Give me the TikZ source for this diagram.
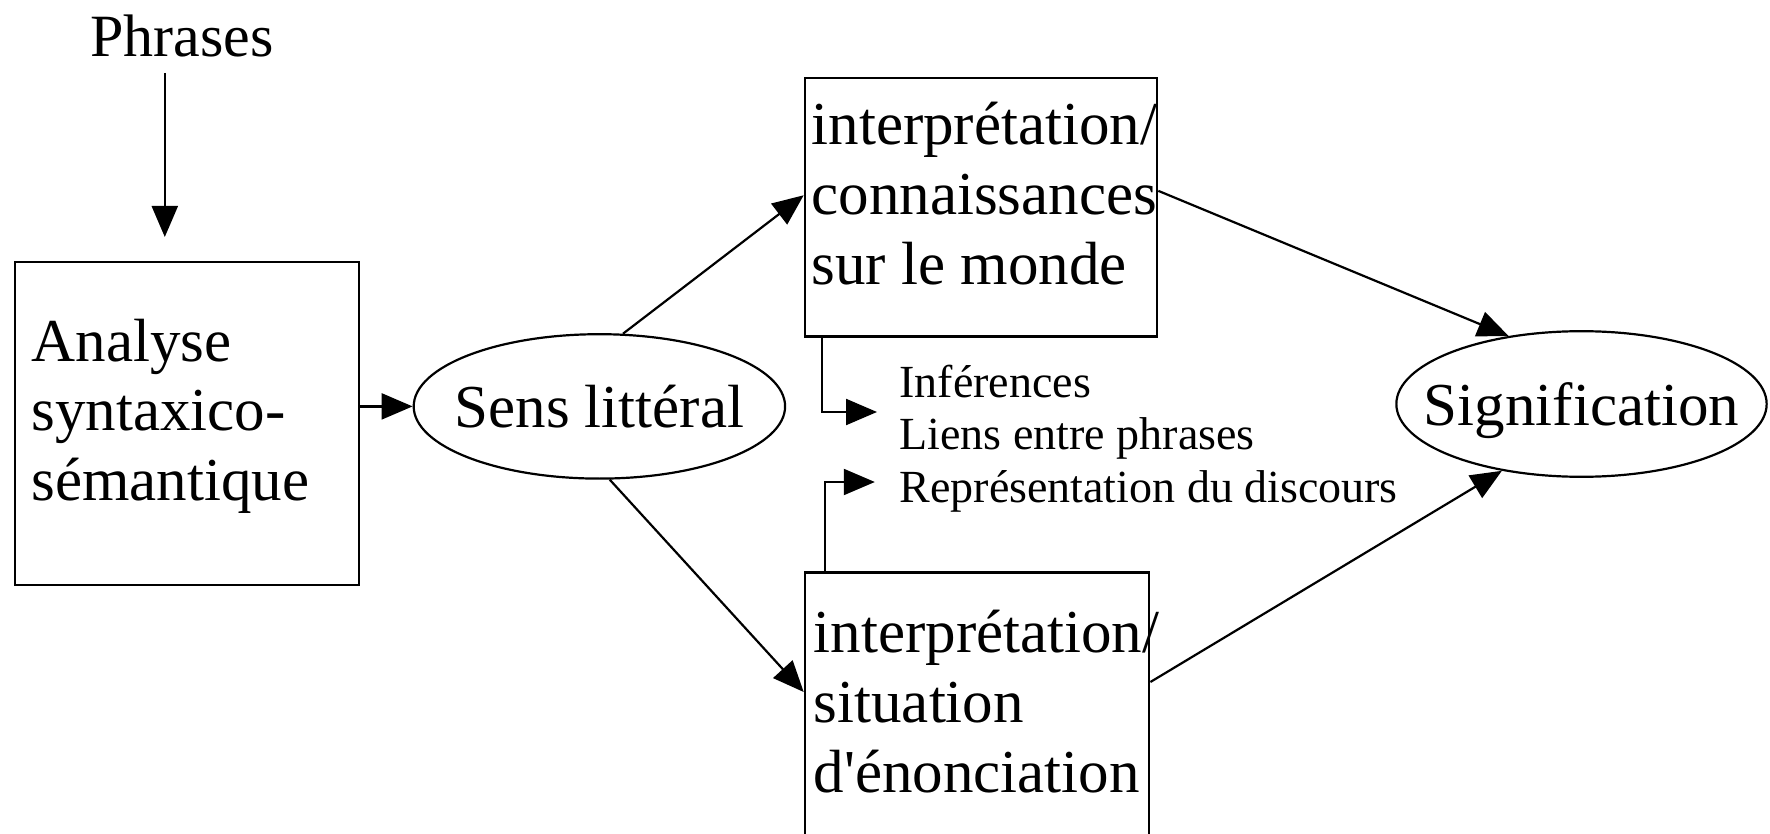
\documentclass[tikz,border=0pt]{standalone}
\usepackage{fontspec}
\setmainfont{Liberation Serif}
\usetikzlibrary{arrows.meta,shapes.geometric,calc}
\begin{document}
\begin{tikzpicture}[x=1pt,y=-1pt, line width=2.2pt,
  tip/.style={-{Triangle[length=31pt,width=26pt]}},
  boxnode/.style={draw, rectangle, inner sep=0pt, anchor=north west, line width=2.4pt},
  oval/.style={draw, ellipse, inner sep=0pt, font=\fontsize{61}{70}\selectfont, text height=42pt, text depth=0pt},
  bigtext/.style={inner sep=0pt, anchor=base west, font=\fontsize{61}{70}\selectfont},
  smalltext/.style={inner sep=0pt, anchor=base west, font=\fontsize{46}{52.5}\selectfont}]
\useasboundingbox (0,0) rectangle (1770,834);
\clip (0,0) rectangle (1770,834);

% boxes
\node[boxnode, minimum width=344.3pt, minimum height=322.8pt] (box1) at (13.5,260.8) {};
\node[boxnode, minimum width=352.2pt, minimum height=258.5pt] (box2) at (803.7,76.8) {};
\node[boxnode, minimum width=344.3pt, minimum height=400pt] (box3) at (803.7,571.2) {};

% box texts
\node[bigtext] (t1) at (30.5,361) {\vtop{\hbox{Analyse}\hbox{syntaxico-}\hbox{sémantique}}};
\node[bigtext] (t2) at (810.5,144.5) {\vtop{\hbox{interprétation/}\hbox{connaissances}\hbox{sur le monde}}};
\node[bigtext] (t3) at (812.7,652) {\vtop{\hbox{interprétation/}\hbox{situation}\hbox{d\textquotesingle énonciation}}};

% ellipses
\node[oval, minimum width=371.4pt, minimum height=144.4pt] (sens) at (599.4,406.4) {\makebox[0pt]{Sens littéral}};
\node[oval, minimum width=370.3pt, minimum height=145.6pt] (sig) at (1581.5,404) {\makebox[0pt]{Signification}};

% top text
\node[font=\fontsize{60}{70}\selectfont, anchor=base, inner sep=0pt] (phr) at (181.7,56.4) {Phrases};
\coordinate (phrEnd) at (164.8,237);
\draw[tip] ($(phr.base -| phrEnd)+(0,16.6)$) -- (phrEnd);

% small text
\node[smalltext] (inf) at (898.5,397) {\vtop{\hbox{Inférences}\hbox{Liens entre phrases}\hbox{Représentation du discours}}};
\coordinate (infA) at (877,412);
\coordinate (infB) at (874.8,482);

% connectors
\draw[tip] (box1.east |- sens) -- (sens.west);
\draw[tip] (sens.72) -- ([yshift=12pt]box2.west);
\draw[tip] ([yshift=16.4pt]box2.east) -- (sig.137);
\draw[tip] (sens.-82) -- ([yshift=-120.8pt]box3.north west);
\draw[tip] ([yshift=-110.8pt]box3.north east) -- (sig.220);
\draw[tip] ([xshift=18.1pt]box2.south west) |- (infA);
\draw[tip] ([xshift=21.5pt]box3.north west) |- (infB);
\end{tikzpicture}
\end{document}
